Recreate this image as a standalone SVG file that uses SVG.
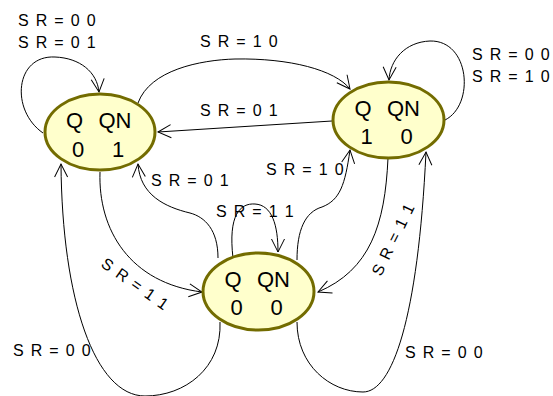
<svg xmlns="http://www.w3.org/2000/svg" width="553" height="396" viewBox="0 0 553 396">
  <style>
    .state ellipse { fill: #ffffcc; stroke: #736c00; stroke-width: 3; }
    .state text { font-family: "Liberation Sans", Arial, sans-serif; font-size: 22px; fill: #000; text-anchor: middle; }
    .edge { fill: none; stroke: #000; stroke-width: 1; marker-end: url(#arrow); }
    .lbl { font-family: "Liberation Sans", Arial, sans-serif; font-size: 16px; letter-spacing: 1.3px; fill: #000; }
  </style>
  <defs>
    <marker id="arrow" markerUnits="userSpaceOnUse" markerWidth="20" markerHeight="20" refX="14" refY="8" orient="auto" overflow="visible">
      <path d="M1,1.5 L14,8 L1,14.5" fill="none" stroke="#000" stroke-width="1"/>
    </marker>
  </defs>
  <rect width="553" height="396" fill="#fff"/>

  <!-- transitions -->
  <g id="connectors">
    <!-- self loop on 01 -->
    <path class="edge" d="M43,133 C10,110 15,55 55,57 C80,58 97,72 99,92"/>
    <!-- self loop on 10 -->
    <path class="edge" d="M445,120 C475,105 470,40 430,41 C405,42 390,60 389,80"/>
    <!-- self loop on 00 -->
    <path class="edge" d="M233,258 C228,215 240,203 255,204 C272,205 278,225 278,252"/>
    <!-- 01 -> 10 -->
    <path class="edge" d="M138,103 C150,70 200,60 235,59 C290,58 335,70 350,89"/>
    <!-- 10 -> 01 -->
    <path class="edge" d="M332,121 L158,132"/>
    <!-- 00 -> 01 -->
    <path class="edge" d="M218,258 C218,230 205,217 190,213 C165,207 140,195 138,164"/>
    <!-- 00 -> 10 -->
    <path class="edge" d="M297,260 C297,230 305,212 322,207 C340,200 345,185 350,150"/>
    <!-- 10 -> 00 -->
    <path class="edge" d="M388,158 C385,225 370,270 318,292"/>
    <!-- 01 -> 00 -->
    <path class="edge" d="M100,172 C98,230 130,283 202,292"/>
    <!-- 00 -> 01 (outer) -->
    <path class="edge" d="M220,322 C222,368 185,396 145,396 C95,396 62,300 61,164"/>
    <!-- 00 -> 10 (outer) -->
    <path class="edge" d="M297,322 C297,365 330,392 363,392 C392,392 418,320 426,152"/>
  </g>

  <!-- transition labels -->
  <g id="labels">
    <text class="lbl" x="18" y="26">S R = 0 0</text>
    <text class="lbl" x="18" y="48">S R = 0 1</text>
    <text class="lbl" x="472" y="60">S R = 0 0</text>
    <text class="lbl" x="472" y="82">S R = 1 0</text>
    <text class="lbl" x="200" y="47">S R = 1 0</text>
    <text class="lbl" x="200" y="116">S R = 0 1</text>
    <text class="lbl" x="266" y="175">S R = 1 0</text>
    <text class="lbl" x="151" y="186">S R = 0 1</text>
    <text class="lbl" x="216" y="217">S R = 1 1</text>
    <text class="lbl" transform="translate(100,266) rotate(35)">S R = 1 1</text>
    <text class="lbl" transform="translate(381,277) rotate(-64)">S R = 1 1</text>
    <text class="lbl" x="13" y="356">S R = 0 0</text>
    <text class="lbl" x="405" y="358">S R = 0 0</text>
  </g>

  <!-- states -->
  <g id="state-01" class="state">
    <ellipse cx="100" cy="132" rx="55" ry="38"/>
    <text x="74.5" y="128">Q</text>
    <text x="115" y="128">QN</text>
    <text x="78" y="157">0</text>
    <text x="118" y="157">1</text>
  </g>
  <g id="state-10" class="state">
    <ellipse cx="388.5" cy="120" rx="55.5" ry="38"/>
    <text x="363" y="115.5">Q</text>
    <text x="403.5" y="115.5">QN</text>
    <text x="366.5" y="144">1</text>
    <text x="406.5" y="144">0</text>
  </g>
  <g id="state-00" class="state">
    <ellipse cx="258.5" cy="291.5" rx="55.5" ry="38.5"/>
    <text x="233" y="287">Q</text>
    <text x="273.5" y="287">QN</text>
    <text x="236.5" y="315">0</text>
    <text x="276.5" y="315">0</text>
  </g>
</svg>
